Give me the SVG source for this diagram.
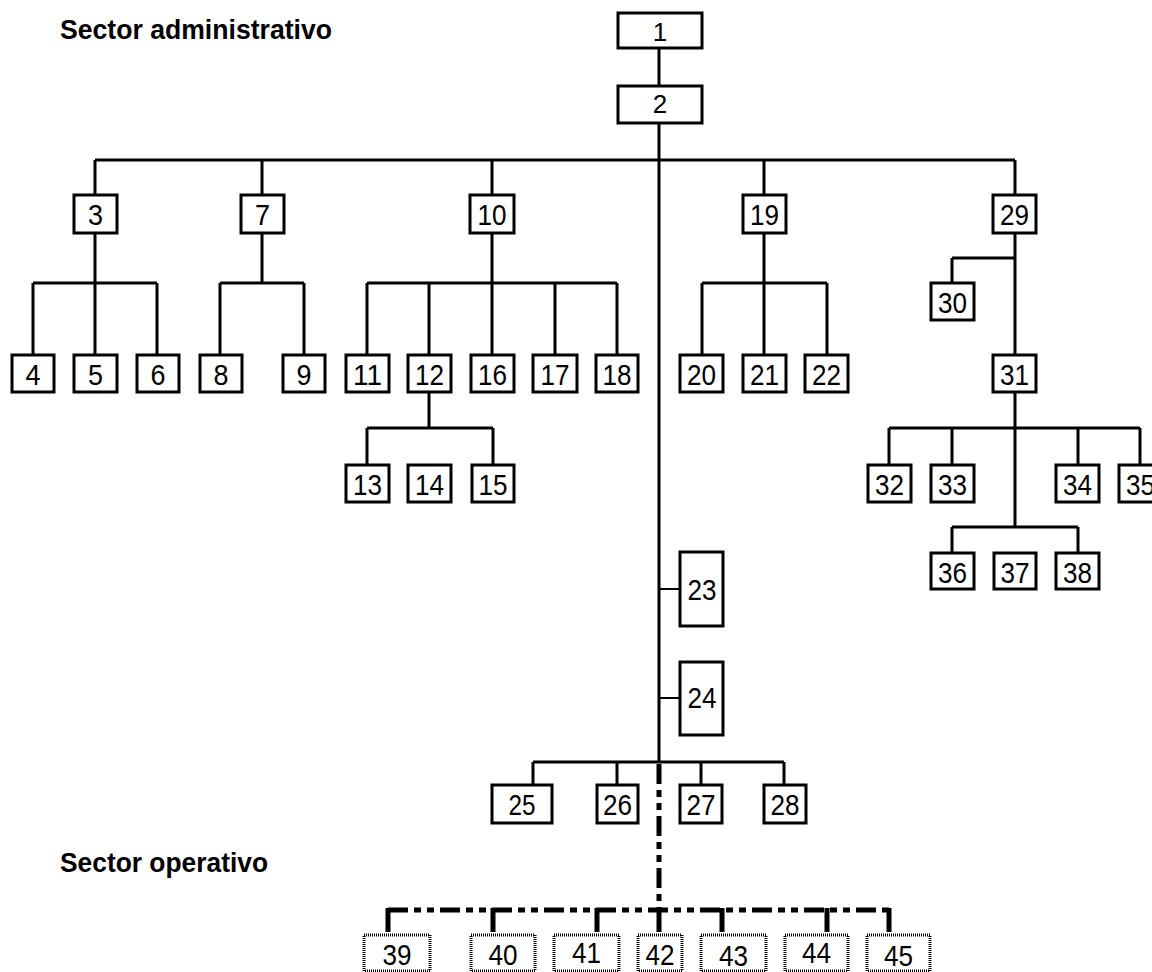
<svg xmlns="http://www.w3.org/2000/svg" width="1152" height="972" viewBox="0 0 1152 972">
<style>
.b rect{fill:#fff;stroke:#000;stroke-width:3}
.d rect{fill:#fff;stroke:#000;stroke-width:3;stroke-dasharray:1 1}
text{font-family:"Liberation Sans",Arial,sans-serif;fill:#000;text-anchor:middle}
.n{font-size:30px}
.t{font-size:26px}
.h{font-size:28px;font-weight:bold;text-anchor:start}
#conn path{fill:none;stroke:#000;stroke-width:3}
#conn path.thin{stroke-width:2}
#conn path.dash{stroke-width:5;stroke-dasharray:20 6 7 6 7 6}
#conn path.drop{stroke-width:5}
</style>
<rect width="1152" height="972" fill="#fff"/>
<text class="h" x="60" y="39" textLength="272" lengthAdjust="spacingAndGlyphs">Sector administrativo</text>
<text class="h" x="60" y="872" textLength="208" lengthAdjust="spacingAndGlyphs">Sector operativo</text>
<g id="conn">
<path d="M659 48V86M659 122V762"/>
<path d="M95 160H1015M95 160V195M262 160V195M492 160V195M764 160V195M1015 160V195"/>
<path d="M95 233V283M33 283H157M33 283V355M95 283V355M157 283V355"/>
<path d="M262 233V283M220 283H304M220 283V355M304 283V355"/>
<path d="M492 233V283M367 283H617M367 283V355M429 283V355M492 283V355M555 283V355M617 283V355"/>
<path d="M429 392V428M367 428H493M367 428V465M493 428V465"/>
<path d="M764 233V283M702 283H827M702 283V355M764 283V355M827 283V355"/>
<path d="M1015 233V355M952 258H1015M952 258V283"/>
<path d="M1015 392V527M889 428H1140M889 428V465M952 428V465M1078 428V465M1140 428V465M952 527H1078M952 527V553M1078 527V553"/>
<path class="thin" d="M659 589H680M659 698H680"/>
<path d="M533 762H784M533 762V785M617 762V785M701 762V785M784 762V785"/>
<path class="dash" d="M659 764V910"/>
<path class="dash" d="M388 910H889"/>
<path class="drop" d="M388 908V932M493 908V932M597 908V932M659 908V932M722 908V932M827 908V932M889 908V932"/>
</g>
<g class="b">
<g id="n1"><rect x="618" y="13" width="84" height="35"/><text class="t" x="660" y="41">1</text></g>
<g id="n2"><rect x="618" y="86" width="84" height="37"/><text class="t" x="660" y="113">2</text></g>
<g id="n3"><rect x="74" y="195" width="43" height="38"/><text class="n" x="95.5" y="225" textLength="15" lengthAdjust="spacingAndGlyphs">3</text></g>
<g id="n7"><rect x="241" y="195" width="43" height="38"/><text class="n" x="262.5" y="225" textLength="15" lengthAdjust="spacingAndGlyphs">7</text></g>
<g id="n10"><rect x="470" y="195" width="44" height="38"/><text class="n" x="492" y="225" textLength="29" lengthAdjust="spacingAndGlyphs">10</text></g>
<g id="n19"><rect x="743" y="195" width="43" height="38"/><text class="n" x="764.5" y="225" textLength="29" lengthAdjust="spacingAndGlyphs">19</text></g>
<g id="n29"><rect x="993" y="195" width="43" height="38"/><text class="n" x="1014.5" y="225" textLength="29" lengthAdjust="spacingAndGlyphs">29</text></g>
<g id="n4"><rect x="12" y="355" width="42" height="37"/><text class="n" x="33" y="385" textLength="15" lengthAdjust="spacingAndGlyphs">4</text></g>
<g id="n5"><rect x="74" y="355" width="43" height="37"/><text class="n" x="95.5" y="385" textLength="15" lengthAdjust="spacingAndGlyphs">5</text></g>
<g id="n6"><rect x="137" y="355" width="42" height="37"/><text class="n" x="158" y="385" textLength="15" lengthAdjust="spacingAndGlyphs">6</text></g>
<g id="n8"><rect x="200" y="355" width="42" height="37"/><text class="n" x="221" y="385" textLength="15" lengthAdjust="spacingAndGlyphs">8</text></g>
<g id="n9"><rect x="283" y="355" width="42" height="37"/><text class="n" x="304" y="385" textLength="15" lengthAdjust="spacingAndGlyphs">9</text></g>
<g id="n11"><rect x="346" y="355" width="43" height="37"/><text class="n" x="367.5" y="385" textLength="29" lengthAdjust="spacingAndGlyphs">11</text></g>
<g id="n12"><rect x="408" y="355" width="43" height="37"/><text class="n" x="429.5" y="385" textLength="29" lengthAdjust="spacingAndGlyphs">12</text></g>
<g id="n16"><rect x="471" y="355" width="43" height="37"/><text class="n" x="492.5" y="385" textLength="29" lengthAdjust="spacingAndGlyphs">16</text></g>
<g id="n17"><rect x="533" y="355" width="44" height="37"/><text class="n" x="555" y="385" textLength="29" lengthAdjust="spacingAndGlyphs">17</text></g>
<g id="n18"><rect x="596" y="355" width="42" height="37"/><text class="n" x="617" y="385" textLength="29" lengthAdjust="spacingAndGlyphs">18</text></g>
<g id="n20"><rect x="680" y="355" width="43" height="37"/><text class="n" x="701.5" y="385" textLength="29" lengthAdjust="spacingAndGlyphs">20</text></g>
<g id="n21"><rect x="743" y="355" width="43" height="37"/><text class="n" x="764.5" y="385" textLength="29" lengthAdjust="spacingAndGlyphs">21</text></g>
<g id="n22"><rect x="805" y="355" width="43" height="37"/><text class="n" x="826.5" y="385" textLength="29" lengthAdjust="spacingAndGlyphs">22</text></g>
<g id="n30"><rect x="931" y="283" width="43" height="37"/><text class="n" x="952.5" y="313" textLength="29" lengthAdjust="spacingAndGlyphs">30</text></g>
<g id="n31"><rect x="993" y="355" width="43" height="37"/><text class="n" x="1014.5" y="385" textLength="29" lengthAdjust="spacingAndGlyphs">31</text></g>
<g id="n13"><rect x="346" y="465" width="43" height="37"/><text class="n" x="367.5" y="495" textLength="29" lengthAdjust="spacingAndGlyphs">13</text></g>
<g id="n14"><rect x="408" y="465" width="43" height="37"/><text class="n" x="429.5" y="495" textLength="29" lengthAdjust="spacingAndGlyphs">14</text></g>
<g id="n15"><rect x="472" y="465" width="42" height="37"/><text class="n" x="493" y="495" textLength="29" lengthAdjust="spacingAndGlyphs">15</text></g>
<g id="n32"><rect x="868" y="465" width="43" height="37"/><text class="n" x="889.5" y="495" textLength="29" lengthAdjust="spacingAndGlyphs">32</text></g>
<g id="n33"><rect x="931" y="465" width="43" height="37"/><text class="n" x="952.5" y="495" textLength="29" lengthAdjust="spacingAndGlyphs">33</text></g>
<g id="n34"><rect x="1056" y="465" width="43" height="37"/><text class="n" x="1077.5" y="495" textLength="29" lengthAdjust="spacingAndGlyphs">34</text></g>
<g id="n35"><rect x="1119" y="465" width="43" height="37"/><text class="n" x="1140.5" y="495" textLength="29" lengthAdjust="spacingAndGlyphs">35</text></g>
<g id="n36"><rect x="931" y="553" width="43" height="36"/><text class="n" x="952.5" y="583" textLength="29" lengthAdjust="spacingAndGlyphs">36</text></g>
<g id="n37"><rect x="994" y="553" width="42" height="36"/><text class="n" x="1015" y="583" textLength="29" lengthAdjust="spacingAndGlyphs">37</text></g>
<g id="n38"><rect x="1056" y="553" width="43" height="36"/><text class="n" x="1077.5" y="583" textLength="29" lengthAdjust="spacingAndGlyphs">38</text></g>
<g id="n23"><rect x="680" y="552" width="43" height="74"/><text class="n" x="702" y="600" textLength="29" lengthAdjust="spacingAndGlyphs">23</text></g>
<g id="n24"><rect x="680" y="662" width="43" height="73"/><text class="n" x="702" y="708" textLength="29" lengthAdjust="spacingAndGlyphs">24</text></g>
<g id="n25"><rect x="492" y="785" width="60" height="38"/><text class="n" x="522" y="815" textLength="27" lengthAdjust="spacingAndGlyphs">25</text></g>
<g id="n26"><rect x="597" y="785" width="41" height="38"/><text class="n" x="617.5" y="815" textLength="29" lengthAdjust="spacingAndGlyphs">26</text></g>
<g id="n27"><rect x="680" y="785" width="42" height="38"/><text class="n" x="701" y="815" textLength="29" lengthAdjust="spacingAndGlyphs">27</text></g>
<g id="n28"><rect x="764" y="785" width="42" height="38"/><text class="n" x="785" y="815" textLength="29" lengthAdjust="spacingAndGlyphs">28</text></g>
</g>
<g class="d">
<g id="n39"><rect x="364" y="935" width="66" height="36"/><text class="n" x="397" y="965" textLength="29" lengthAdjust="spacingAndGlyphs">39</text></g>
<g id="n40"><rect x="471" y="935" width="64" height="36"/><text class="n" x="503" y="965" textLength="29" lengthAdjust="spacingAndGlyphs">40</text></g>
<g id="n41"><rect x="554" y="935" width="65" height="36"/><text class="n" x="586.5" y="963" textLength="29" lengthAdjust="spacingAndGlyphs">41</text></g>
<g id="n42"><rect x="638" y="935" width="44" height="36"/><text class="n" x="660" y="965" textLength="29" lengthAdjust="spacingAndGlyphs">42</text></g>
<g id="n43"><rect x="701" y="935" width="65" height="36"/><text class="n" x="733.5" y="966" textLength="29" lengthAdjust="spacingAndGlyphs">43</text></g>
<g id="n44"><rect x="785" y="935" width="63" height="36"/><text class="n" x="816.5" y="963" textLength="29" lengthAdjust="spacingAndGlyphs">44</text></g>
<g id="n45"><rect x="867" y="935" width="63" height="36"/><text class="n" x="898.5" y="966" textLength="29" lengthAdjust="spacingAndGlyphs">45</text></g>
</g>
</svg>
